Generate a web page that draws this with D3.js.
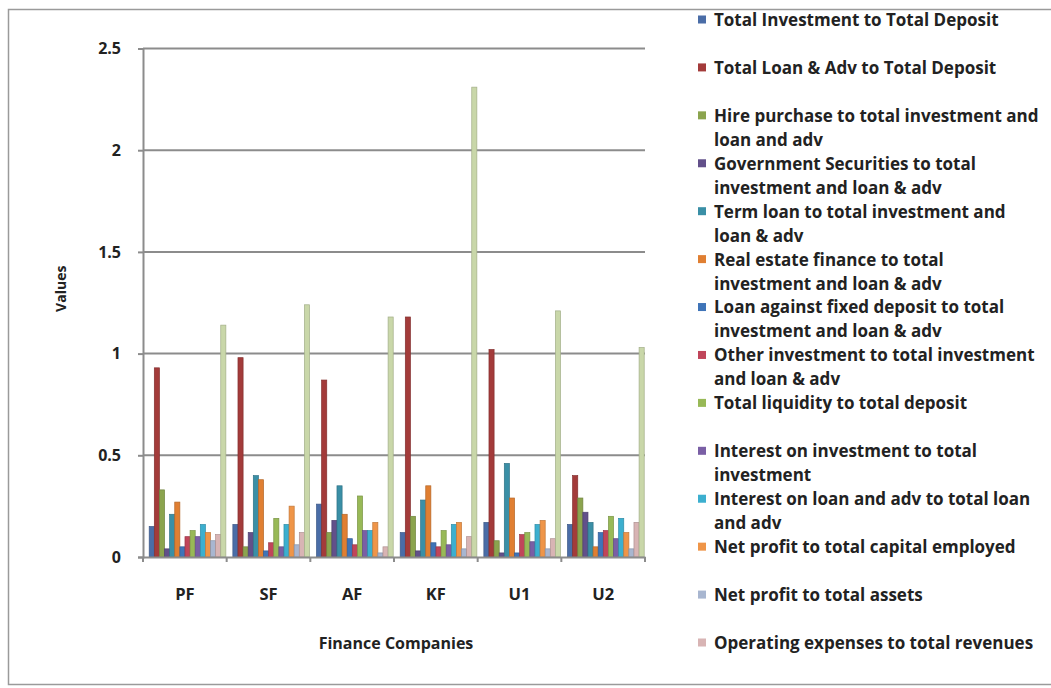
<!DOCTYPE html>
<html>
<head>
<meta charset="utf-8">
<script src="https://cdn.jsdelivr.net/npm/d3@7/dist/d3.min.js"></script>
<style>
  html, body { margin: 0; padding: 0; background: #ffffff; }
  svg { display: block; }
  text { font-family: "Open Sans", Lato, sans-serif; font-weight: 700; fill: #222; }
</style>
</head>
<body>
<svg id="chart" width="1051" height="688"></svg>
<script>
// Finance company ratios, one array per ratio across the six companies
const categories = ["PF", "SF", "AF", "KF", "U1", "U2"];

const seriesNames = [
  "Total Investment to Total Deposit",
  "Total Loan & Adv to Total Deposit",
  "Hire purchase to total investment and loan and adv",
  "Government Securities to total investment and loan & adv",
  "Term loan to total investment and loan & adv",
  "Real estate finance to total investment and loan & adv",
  "Loan against fixed deposit to total investment and loan & adv",
  "Other investment to total investment and loan & adv",
  "Total liquidity to total deposit",
  "Interest on investment to total investment",
  "Interest on loan and adv to total loan and adv",
  "Net profit to total capital employed",
  "Net profit to total assets",
  "Operating expenses to total revenues",
  "Series 15"
];

// Legend rows (wrapped as in the legend box)
const legendLines = [
  ["Total Investment to Total Deposit"],
  ["Total Loan & Adv to Total Deposit"],
  ["Hire purchase to total investment and", "loan and adv"],
  ["Government Securities to total", "investment and loan & adv"],
  ["Term loan to total investment and", "loan & adv"],
  ["Real estate finance to total", "investment and loan & adv"],
  ["Loan against fixed deposit to total", "investment and loan & adv"],
  ["Other investment to total investment", "and loan & adv"],
  ["Total liquidity to total deposit"],
  ["Interest on investment to total", "investment"],
  ["Interest on loan and adv to total loan", "and adv"],
  ["Net profit to total capital employed"],
  ["Net profit to total assets"],
  ["Operating expenses to total revenues"]
];

const totalInvToDeposit   = [0.15, 0.16, 0.26, 0.12, 0.17, 0.16];
const totalLoanToDeposit  = [0.93, 0.98, 0.87, 1.18, 1.02, 0.40];
const hirePurchase        = [0.33, 0.05, 0.12, 0.20, 0.08, 0.29];
const govtSecurities      = [0.04, 0.12, 0.18, 0.03, 0.02, 0.22];
const termLoan            = [0.21, 0.40, 0.35, 0.28, 0.46, 0.17];
const realEstate          = [0.27, 0.38, 0.21, 0.35, 0.29, 0.05];
const loanAgainstFD       = [0.05, 0.03, 0.09, 0.07, 0.02, 0.12];
const otherInvestment     = [0.10, 0.07, 0.06, 0.05, 0.11, 0.13];
const totalLiquidity      = [0.13, 0.19, 0.30, 0.13, 0.12, 0.20];
const interestOnInv       = [0.10, 0.05, 0.13, 0.06, 0.075, 0.09];
const interestOnLoan      = [0.16, 0.16, 0.13, 0.16, 0.16, 0.19];
const netProfitCapital    = [0.12, 0.25, 0.17, 0.17, 0.18, 0.12];
const netProfitAssets     = [0.08, 0.06, 0.02, 0.04, 0.04, 0.04];
const operatingExpenses   = [0.11, 0.12, 0.05, 0.10, 0.09, 0.17];
const series15            = [1.14, 1.24, 1.18, 2.31, 1.21, 1.03];

const yTicks = [0, 0.5, 1, 1.5, 2, 2.5];

const colors = [
  "#4A6DA7", "#A33B3A", "#8BA44E", "#62508A", "#3A8FA6", "#E07F32",
  "#3F74B8", "#C0455A", "#98B957", "#7A5FA5", "#3CAFCF", "#EF9548",
  "#A8B6D0", "#D8B4B4", "#C9D7A9"
];

const seriesValues = [
  totalInvToDeposit, totalLoanToDeposit, hirePurchase, govtSecurities,
  termLoan, realEstate, loanAgainstFD, otherInvestment, totalLiquidity,
  interestOnInv, interestOnLoan, netProfitCapital, netProfitAssets,
  operatingExpenses, series15
];

const svg = d3.select("#chart");

// outer chart frame
svg.append("rect")
  .attr("x", 8.5).attr("y", 9.5)
  .attr("width", 1060).attr("height", 675)
  .attr("fill", "#fff").attr("stroke", "#9a9a9a").attr("stroke-width", 1.5);

const plot = { left: 143, right: 645, top: 48.5, bottom: 557 };

const x0 = d3.scaleBand().domain(categories).range([plot.left, plot.right]).padding(0);
const x1 = d3.scaleBand().domain(d3.range(seriesValues.length))
  .range([6.2, x0.bandwidth() - 0.8]).padding(0);
const y = d3.scaleLinear().domain([0, 2.5]).range([plot.bottom, plot.top]);

// horizontal gridlines
svg.append("g")
  .selectAll("line")
  .data(yTicks.filter(d => d > 0))
  .join("line")
  .attr("x1", plot.left).attr("x2", plot.right)
  .attr("y1", d => y(d)).attr("y2", d => y(d))
  .attr("stroke", "#8c8c8c").attr("stroke-width", 2);

// bars
const groups = svg.append("g")
  .selectAll("g")
  .data(categories)
  .join("g")
  .attr("transform", d => `translate(${x0(d)},0)`);

groups.selectAll("rect")
  .data((c, ci) => seriesValues.map((vals, si) => ({ si, v: vals[ci] })))
  .join("rect")
  .attr("x", d => x1(d.si))
  .attr("width", x1.bandwidth())
  .attr("y", d => y(d.v))
  .attr("height", d => y(0) - y(d.v))
  .attr("fill", d => colors[d.si])
  .attr("stroke", d => d3.color(colors[d.si]).darker(0.6))
  .attr("stroke-width", 0.7);

const labelFont = "\"Open Sans\", Lato, sans-serif";

// y axis
const yAxis = d3.axisLeft(y).tickValues(yTicks).tickFormat(d3.format("~g")).tickSize(5).tickPadding(17);
const gy = svg.append("g").attr("transform", `translate(${plot.left},0)`).call(yAxis);
gy.select(".domain").attr("stroke", "#8c8c8c").attr("stroke-width", 2);
gy.selectAll(".tick line").attr("stroke", "#8c8c8c").attr("stroke-width", 2);
gy.selectAll(".tick text").attr("font-size", 16).attr("font-family", labelFont)
  .attr("font-weight", 700).attr("fill", "#222");

// x axis with ticks on category boundaries
const xAxis = d3.axisBottom(x0).tickSize(0).tickPadding(31);
const gx = svg.append("g").attr("transform", `translate(0,${plot.bottom})`).call(xAxis);
gx.select(".domain").attr("stroke", "#8c8c8c").attr("stroke-width", 2);
gx.selectAll(".tick text").attr("font-size", 16.5).attr("font-family", labelFont)
  .attr("font-weight", 700).attr("fill", "#222");
gx.append("g").selectAll("line")
  .data(categories.map(c => x0(c)).concat([plot.right]))
  .join("line")
  .attr("x1", d => d).attr("x2", d => d)
  .attr("y1", 0).attr("y2", 5)
  .attr("stroke", "#8c8c8c").attr("stroke-width", 2);

// axis titles
svg.append("text")
  .attr("x", (plot.left + plot.right) / 2 + 2).attr("y", 649)
  .attr("text-anchor", "middle").attr("font-size", 16)
  .text("Finance Companies");

svg.append("text")
  .attr("transform", `translate(66,${(plot.top + plot.bottom) / 2 - 14}) rotate(-90)`)
  .attr("text-anchor", "middle").attr("font-size", 14)
  .text("Values");

// legend
const legendY = d3.scaleLinear().domain([0, legendLines.length - 1]).range([20, 643]);
const legend = svg.append("g").selectAll("g")
  .data(legendLines)
  .join("g")
  .attr("transform", (d, i) => `translate(698,${legendY(i)})`);

legend.append("rect")
  .attr("x", 0).attr("y", -4.5).attr("width", 8).attr("height", 8)
  .attr("fill", (d, i) => colors[i]);

legend.each(function (lines) {
  const g = d3.select(this);
  lines.forEach((line, li) => {
    g.append("text")
      .attr("x", 16).attr("y", li * 24)
      .attr("dy", "0.35em")
      .attr("font-size", 17)
      .attr("fill", "#1a1a1a")
      .text(line);
  });
});
</script>
</body>
</html>
